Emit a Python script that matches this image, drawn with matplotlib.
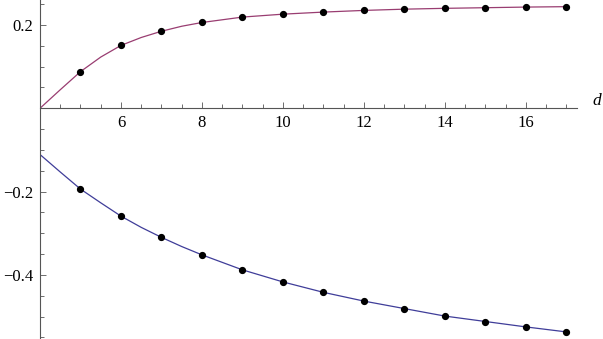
#### Workspace setup ####
import matplotlib
matplotlib.use('Agg')
import matplotlib.pyplot as plt
from matplotlib.ticker import MultipleLocator, FixedLocator

#### Data ####
d_points = [5, 6, 7, 8, 9, 10, 11, 12, 13, 14, 15, 16, 17]
upper_points = [0.088, 0.151, 0.185, 0.206, 0.219, 0.226, 0.231, 0.235,
                0.238, 0.240, 0.2415, 0.243, 0.244]
lower_points = [-0.194, -0.259, -0.310, -0.352, -0.388, -0.417, -0.442,
                -0.463, -0.481, -0.499, -0.512, -0.525, -0.537]

# curves sampled a bit finer near the start, where they bend most
d_curve = [4, 4.5, 5, 5.5, 6, 6.5, 7, 7.5, 8, 9, 10, 11, 12, 13, 14, 15, 16, 17]
upper_curve = [0.0, 0.0445, 0.088, 0.123, 0.151, 0.170, 0.185, 0.197, 0.206,
               0.219, 0.226, 0.231, 0.235, 0.238, 0.240, 0.2415, 0.243, 0.244]
lower_curve = [-0.111, -0.153, -0.194, -0.227, -0.259, -0.286, -0.310, -0.332,
               -0.352, -0.388, -0.417, -0.442, -0.463, -0.481, -0.499, -0.512,
               -0.525, -0.537]

x_ticks = [6, 8, 10, 12, 14, 16]
y_ticks = [-0.4, -0.2, 0.2]

#### Plot ####
plt.rcParams['font.family'] = ['Liberation Serif', 'DejaVu Serif']

fig = plt.figure(figsize=(6.03, 3.39), dpi=100)
ax = fig.add_axes([40 / 603, 0, 537 / 603, 1])

blue = (0.2472, 0.24, 0.6)
purple = (0.6, 0.24, 0.4429)

ax.plot(d_curve, upper_curve, color=purple, linewidth=0.9)
ax.plot(d_curve, lower_curve, color=blue, linewidth=0.9)
ax.plot(d_points, upper_points, 'o', color='black', markersize=4.2)
ax.plot(d_points, lower_points, 'o', color='black', markersize=4.2)

ax.set_xlim(4, 17.26)
ax.set_ylim(-0.554, 0.26)

# Mathematica-style axes crossing at (4, 0)
ax.spines['left'].set_position(('data', 4))
ax.spines['bottom'].set_position(('data', 0))
ax.spines['top'].set_visible(False)
ax.spines['right'].set_visible(False)
axis_color = '#555555'
for s in ('left', 'bottom'):
    ax.spines[s].set_color(axis_color)
    ax.spines[s].set_linewidth(0.8)

ax.xaxis.set_major_locator(FixedLocator(x_ticks))
ax.xaxis.set_minor_locator(MultipleLocator(0.5))
ax.yaxis.set_major_locator(FixedLocator(y_ticks))
ax.yaxis.set_minor_locator(MultipleLocator(0.05))
ax.set_xticklabels([str(t) for t in x_ticks])
ax.set_yticklabels(['\u22120.4', '\u22120.2', '0.2'])

ax.tick_params(axis='both', which='both', direction='in', color=axis_color,
               width=0.6, labelsize=12, labelcolor='black')
ax.tick_params(axis='both', which='major', length=4.5)
ax.tick_params(axis='both', which='minor', length=3)
ax.tick_params(axis='x', pad=5)
ax.tick_params(axis='y', pad=5)

ax.text(17.75, 0.007, 'd', fontsize=12.5, style='italic', ha='center',
        va='baseline', clip_on=False)

ax.patch.set_visible(False)
fig.savefig('out.png', dpi=100)
